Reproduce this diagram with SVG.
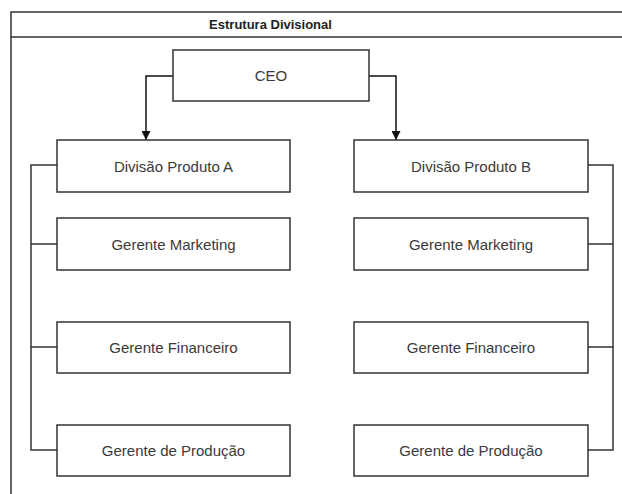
<svg xmlns="http://www.w3.org/2000/svg" width="622" height="494" viewBox="0 0 622 494">
<defs>
<marker id="arr" viewBox="0 0 10 10" refX="10" refY="5" markerWidth="9" markerHeight="9" markerUnits="userSpaceOnUse" orient="auto"><path d="M0,0 L10,5 L0,10 Z" fill="#111"/></marker>
<style>
.box{fill:#fff;stroke:#333;stroke-width:1.5}
.lbl{font-family:"Liberation Sans",Arial,sans-serif;font-size:15px;fill:#3a3a3a;text-anchor:middle;dominant-baseline:central}
.ttl{font-family:"Liberation Sans",Arial,sans-serif;font-size:13px;font-weight:bold;fill:#222;text-anchor:middle;dominant-baseline:central}
.ln{fill:none;stroke:#333;stroke-width:1.5}
.ar{fill:none;stroke:#111;stroke-width:1.5}
</style>
</defs>
<rect width="622" height="494" fill="#fff"/>
<g id="container">
<rect x="11" y="12" width="640" height="500" fill="none" stroke="#333" stroke-width="1.5"/>
<line x1="11" y1="37" x2="640" y2="37" stroke="#333" stroke-width="1.5"/>
<text class="ttl" x="270.5" y="24">Estrutura Divisional</text>
</g>
<g id="connectors">
<path class="ar" d="M173,76 H146 V140" marker-end="url(#arr)"/>
<path class="ar" d="M369,76 H396 V140" marker-end="url(#arr)"/>
<path class="ln" d="M57,165 H31 V450 H57 M31,244 H57 M31,347 H57"/>
<path class="ln" d="M588,165 H613 V450 H588 M613,244 H588 M613,347 H588"/>
</g>
<g id="ceo"><rect class="box" x="173" y="50" width="196" height="51"/><text class="lbl" x="271" y="75.5">CEO</text></g>
<g id="divA"><rect class="box" x="57" y="140" width="233" height="52"/><text class="lbl" x="173.5" y="166">Divisão Produto A</text></g>
<g id="mktA"><rect class="box" x="57" y="218" width="233" height="52"/><text class="lbl" x="173.5" y="244">Gerente Marketing</text></g>
<g id="finA"><rect class="box" x="57" y="322" width="233" height="51"/><text class="lbl" x="173.5" y="347.5">Gerente Financeiro</text></g>
<g id="prodA"><rect class="box" x="57" y="425" width="233" height="51"/><text class="lbl" x="173.5" y="450.5">Gerente de Produção</text></g>
<g id="divB"><rect class="box" x="354" y="140" width="234" height="52"/><text class="lbl" x="471" y="166">Divisão Produto B</text></g>
<g id="mktB"><rect class="box" x="354" y="218" width="234" height="52"/><text class="lbl" x="471" y="244">Gerente Marketing</text></g>
<g id="finB"><rect class="box" x="354" y="322" width="234" height="51"/><text class="lbl" x="471" y="347.5">Gerente Financeiro</text></g>
<g id="prodB"><rect class="box" x="354" y="425" width="234" height="51"/><text class="lbl" x="471" y="450.5">Gerente de Produção</text></g>
</svg>
